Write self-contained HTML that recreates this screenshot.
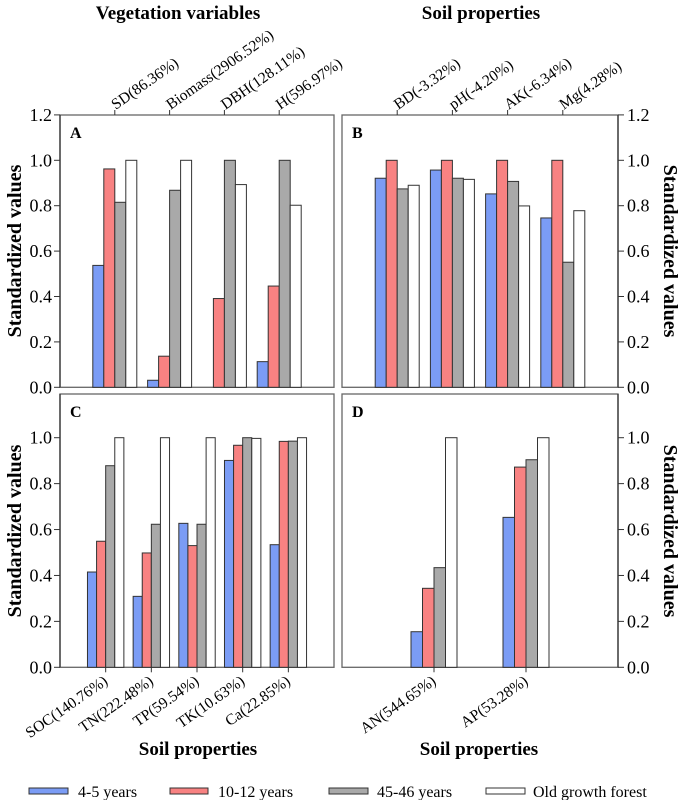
<!DOCTYPE html>
<html><head><meta charset="utf-8"><style>
body{margin:0;background:#fff}
svg{display:block}
svg text{font-family:"Liberation Serif","Times New Roman",serif}
</style></head><body>
<svg id="chart" width="685" height="800" viewBox="0 0 685 800" xmlns="http://www.w3.org/2000/svg" font-family="Liberation Serif, serif">
<text x="178" y="19" font-size="19" font-weight="bold" text-anchor="middle">Vegetation variables</text>
<text x="481" y="19" font-size="19" font-weight="bold" text-anchor="middle">Soil properties</text>
<text x="198" y="755" font-size="19" font-weight="bold" text-anchor="middle">Soil properties</text>
<text x="479" y="755" font-size="19" font-weight="bold" text-anchor="middle">Soil properties</text>
<text transform="translate(21,251) rotate(-90)" font-size="20" font-weight="bold" text-anchor="middle">Standardized values</text>
<text transform="translate(21,531) rotate(-90)" font-size="20" font-weight="bold" text-anchor="middle">Standardized values</text>
<text transform="translate(664,251) rotate(90)" font-size="20" font-weight="bold" text-anchor="middle">Standardized values</text>
<text transform="translate(664,531) rotate(90)" font-size="20" font-weight="bold" text-anchor="middle">Standardized values</text>
<g id="legend">
<g><rect x="29" y="788" width="39" height="6" fill="#7b9cf5" stroke="#333"/><text x="78" y="797" font-size="16">4-5 years</text></g>
<g><rect x="170" y="788" width="38" height="6" fill="#f88282" stroke="#333"/><text x="218" y="797" font-size="16">10-12 years</text></g>
<g><rect x="329" y="788" width="39" height="6" fill="#a9a9a9" stroke="#333"/><text x="377" y="797" font-size="16">45-46 years</text></g>
<g><rect x="486" y="788" width="39" height="6" fill="#fff" stroke="#333"/><text x="533" y="797" font-size="16">Old growth forest</text></g>
</g>
</svg>
<script>
const seriesNames = ['4-5 years','10-12 years','45-46 years','Old growth forest'];
const seriesColors = ['#7b9cf5','#f88282','#a9a9a9','#ffffff'];
const yTicks = [0,0.2,0.4,0.6,0.8,1.0,1.2];
const yTickLabels = ['0.0','0.2','0.4','0.6','0.8','1.0','1.2'];

const catsA = ['SD(86.36%)','Biomass(2906.52%)','DBH(128.11%)','H(596.97%)'];
const a1 = [0.537,0.031,0,0.113];
const a2 = [0.962,0.137,0.391,0.446];
const a3 = [0.815,0.868,1.0,1.0];
const a4 = [1.0,1.0,0.893,0.802];

const catsB = ['BD(-3.32%)','pH(-4.20%)','AK(-6.34%)','Mg(4.28%)'];
const b1 = [0.921,0.957,0.852,0.746];
const b2 = [1.0,1.0,1.0,1.0];
const b3 = [0.874,0.921,0.907,0.551];
const b4 = [0.890,0.916,0.799,0.778];

const catsC = ['SOC(140.76%)','TN(222.48%)','TP(59.54%)','TK(10.63%)','Ca(22.85%)'];
const c1 = [0.415,0.309,0.627,0.901,0.534];
const c2 = [0.549,0.498,0.530,0.967,0.984];
const c3 = [0.878,0.623,0.623,1.0,0.985];
const c4 = [1.0,1.0,1.0,0.997,1.0];

const catsD = ['AN(544.65%)','AP(53.28%)'];
const d1 = [0.155,0.653];
const d2 = [0.344,0.872];
const d3 = [0.434,0.904];
const d4 = [1.0,1.0];

const NS='http://www.w3.org/2000/svg';
const svg=document.getElementById('chart');
function mk(tag,attrs,parent){const e=document.createElementNS(NS,tag);for(const k in attrs)e.setAttribute(k,attrs[k]);(parent||svg).appendChild(e);return e;}

function panel(cfg){
  const g=mk('g',{});
  
  
  const y=v=>cfg.y0-(v)*(cfg.y0-cfg.y1);
  const xc=i=>cfg.left+cfg.groupStep*(i+cfg.offset);
  const fr=mk('rect',{x:cfg.left,y:cfg.top,width:cfg.right-cfg.left,height:cfg.y0-cfg.top,fill:'none',stroke:'#666','stroke-width':1.3},g);
  
  
  const lt=mk('text',{x:cfg.left+10,y:cfg.top+23,'font-size':16,'font-weight':'bold'},g);
  lt.textContent=cfg.letter;
  
  
  const ax=cfg.axisSide==='left'?cfg.left:cfg.right;
  mk('line',{x1:ax,x2:ax,y1:cfg.top,y2:cfg.y0,stroke:'#333','stroke-width':1.3},g);
  yTicks.forEach((t,i)=>{
    if(y(t)<cfg.top-1)return;
    const d=cfg.axisSide==='left'?-6:6;
    mk('line',{x1:ax,x2:ax+d,y1:y(t),y2:y(t),stroke:'#333'},g);
    const tx=mk('text',{x:cfg.axisSide==='left'?ax-8:ax+9,y:y(t)+6,'font-size':18,'text-anchor':cfg.axisSide==='left'?'end':'start'},g);
    tx.textContent=yTickLabels[i];
    
    
  });
  const bw=cfg.barW;
  cfg.series.forEach((vals,s)=>{
    vals.forEach((v,i)=>{
      if(v<=0)return;
      const x=xc(i)-2*bw+s*bw;
      const r=mk('rect',{x:x,y:y(v),width:bw,height:cfg.y0-y(v),fill:seriesColors[s],stroke:'#333','stroke-width':1},g);
      
      
    });
  });
  cfg.cats.forEach((c,i)=>{
    const x=xc(i);
    if(cfg.catSide==='top'){
      mk('line',{x1:x,x2:x,y1:cfg.top,y2:cfg.top-5,stroke:'#333'},g);
      const t=mk('text',{transform:`translate(${x+1},${cfg.top-5}) rotate(-35)`,'font-size':15.5},g);
      t.textContent=c;
      
      
    }else{
      mk('line',{x1:x,x2:x,y1:cfg.y0,y2:cfg.y0+5,stroke:'#333'},g);
      const t=mk('text',{transform:`translate(${x+3},${cfg.y0+16}) rotate(-35)`,'font-size':15.5,'text-anchor':'end'},g);
      t.textContent=c;
      
      
    }
  });
}

panel({letter:'A',left:60,right:334,top:115,y0:387.3,y1:160.3,groupStep:54.8,offset:1,barW:11,series:[a1,a2,a3,a4],cats:catsA,axisSide:'left',catSide:'top'});
panel({letter:'B',left:342,right:618,top:115,y0:387.3,y1:160.3,groupStep:55.2,offset:1,barW:11,series:[b1,b2,b3,b4],cats:catsB,axisSide:'right',catSide:'top'});
panel({letter:'C',left:60,right:334,top:394,y0:667.3,y1:437.7,groupStep:45.67,offset:1,barW:9.1,series:[c1,c2,c3,c4],cats:catsC,axisSide:'left',catSide:'bottom'});
panel({letter:'D',left:342,right:618,top:394,y0:667.3,y1:437.7,groupStep:92,offset:1,barW:11.5,series:[d1,d2,d3,d4],cats:catsD,axisSide:'right',catSide:'bottom'});
</script>
</body></html>
